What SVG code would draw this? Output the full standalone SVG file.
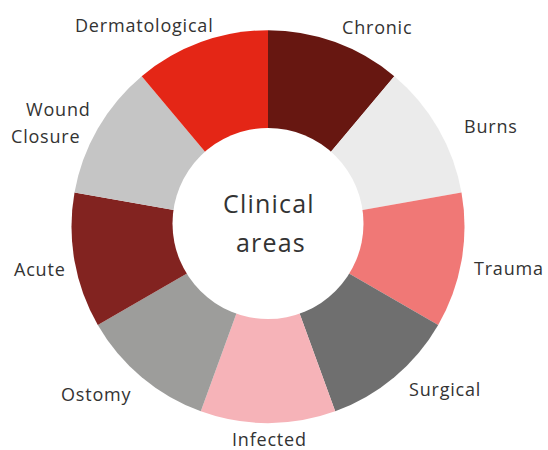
<svg xmlns="http://www.w3.org/2000/svg" width="548" height="450" viewBox="0 0 548 450">
<style>
.lbl{font-family:"Open Sans","Noto Sans","DejaVu Sans",sans-serif;font-size:18px;font-weight:400;fill:#333;letter-spacing:0.8px}
.ctr{font-family:"Open Sans","Noto Sans","DejaVu Sans",sans-serif;font-size:25px;font-weight:400;fill:#333;letter-spacing:1.2px}
</style>
<rect width="548" height="450" fill="#fff"/>
<g id="connectors"></g>
<g id="seg-chronic"><path d="M268,226.7 L268,30.2 A196.5,196.5 0 0 1 394.3,76.2 Z" fill="#671711"/><text class="lbl" x="342" y="34">Chronic</text></g>
<g id="seg-burns"><path d="M268,226.7 L394.3,76.2 A196.5,196.5 0 0 1 461.5,192.6 Z" fill="#ebebeb"/><text class="lbl" x="464" y="133">Burns</text></g>
<g id="seg-trauma"><path d="M268,226.7 L461.5,192.6 A196.5,196.5 0 0 1 438.2,325 Z" fill="#f07876"/><text class="lbl" x="474" y="275">Trauma</text></g>
<g id="seg-surgical"><path d="M268,226.7 L438.2,325 A196.5,196.5 0 0 1 335.2,411.3 Z" fill="#6f6f6f"/><text class="lbl" x="409" y="396">Surgical</text></g>
<g id="seg-infected"><path d="M268,226.7 L335.2,411.3 A196.5,196.5 0 0 1 200.8,411.3 Z" fill="#f6b3b8"/><text class="lbl" x="232" y="446">Infected</text></g>
<g id="seg-ostomy"><path d="M268,226.7 L200.8,411.3 A196.5,196.5 0 0 1 97.8,325 Z" fill="#9d9d9b"/><text class="lbl" x="61" y="401">Ostomy</text></g>
<g id="seg-acute"><path d="M268,226.7 L97.8,325 A196.5,196.5 0 0 1 74.5,192.6 Z" fill="#822320"/><text class="lbl" x="14" y="276">Acute</text></g>
<g id="seg-wound-closure"><path d="M268,226.7 L74.5,192.6 A196.5,196.5 0 0 1 141.7,76.2 Z" fill="#c5c5c5"/><text class="lbl" x="26" y="116">Wound</text><text class="lbl" x="11" y="143">Closure</text></g>
<g id="seg-dermatological"><path d="M268,226.7 L141.7,76.2 A196.5,196.5 0 0 1 268,30.2 Z" fill="#e42616"/><text class="lbl" x="75" y="32">Dermatological</text></g>
<g id="center"><circle cx="268" cy="223.5" r="95.5" fill="#fff"/><text class="ctr" x="223" y="213">Clinical</text><text class="ctr" x="236" y="252">areas</text></g>
</svg>
